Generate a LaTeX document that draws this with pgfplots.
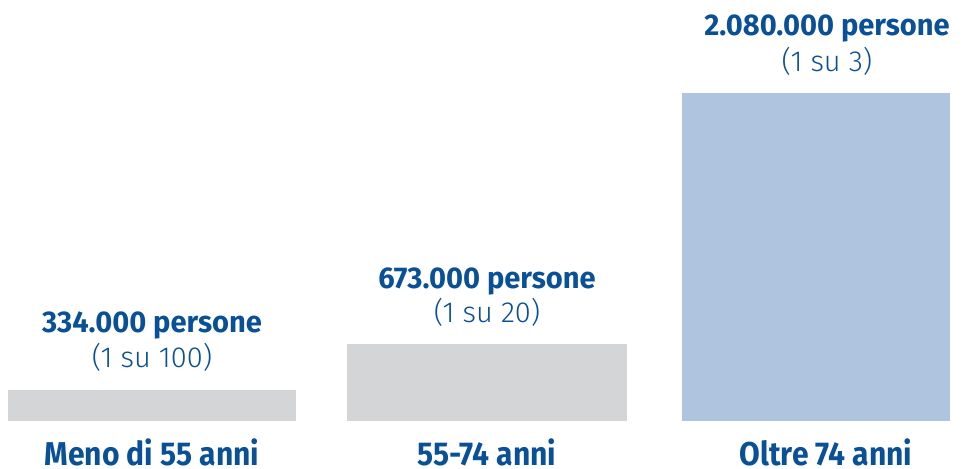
\documentclass[border=0pt]{standalone}
\usepackage{pgfplots}
\pgfplotsset{compat=1.18}
\usepackage{fontspec}
\setmainfont{Fira Sans}
\newfontfamily\valfont[FakeStretch=0.97]{Fira Sans Bold}
\newfontfamily\catfont[FakeStretch=0.91]{Fira Sans Bold}
\newfontfamily\lightfont{Fira Sans Light}
\definecolor{tblue}{HTML}{0A5096}
\definecolor{tgray}{HTML}{D4D5D7}
\definecolor{lblue}{HTML}{AFC4DF}
\newcommand{\valstyle}{\valfont\fontsize{30bp}{34bp}\selectfont}
\newcommand{\catstyle}{\catfont\fontsize{33bp}{36bp}\selectfont}
\newcommand{\ratestyle}{\lightfont\fontsize{29bp}{33bp}\selectfont}
\begin{document}
\begin{tikzpicture}
\begin{axis}[
  scale only axis, width=963bp, height=469bp,
  xmin=0, xmax=963, ymin=-48, ymax=421,
  hide axis, clip=false, ybar, bar shift=0pt,
]
\addplot[fill=tgray, draw=none, bar width=288] coordinates {(152,31)};
\addplot[fill=tgray, draw=none, bar width=280] coordinates {(487,77)};
\addplot[fill=lblue, draw=none, bar width=268] coordinates {(816,328)};
\path (axis cs:0,-48) rectangle (axis cs:963,421);
\begin{scope}[every node/.style={anchor=base, text=tblue, inner sep=0pt}]
\node[font=\valstyle] at (axis cs:152,88) {334.000 persone};
\node[font=\ratestyle] at (axis cs:152,53) {(1 su 100)};
\node[font=\catstyle] at (axis cs:152,-44) {Meno di 55 anni};
\node[font=\valstyle] at (axis cs:487,132) {673.000 persone};
\node[font=\ratestyle] at (axis cs:487,98) {(1 su 20)};
\node[font=\catstyle] at (axis cs:487,-44) {55-74 anni};
\node[font=\valstyle] at (axis cs:827,385) {2.080.000 persone};
\node[font=\ratestyle] at (axis cs:827,349) {(1 su 3)};
\node[font=\catstyle] at (axis cs:826,-44) {Oltre 74 anni};
\end{scope}
\end{axis}
\end{tikzpicture}
\end{document}
